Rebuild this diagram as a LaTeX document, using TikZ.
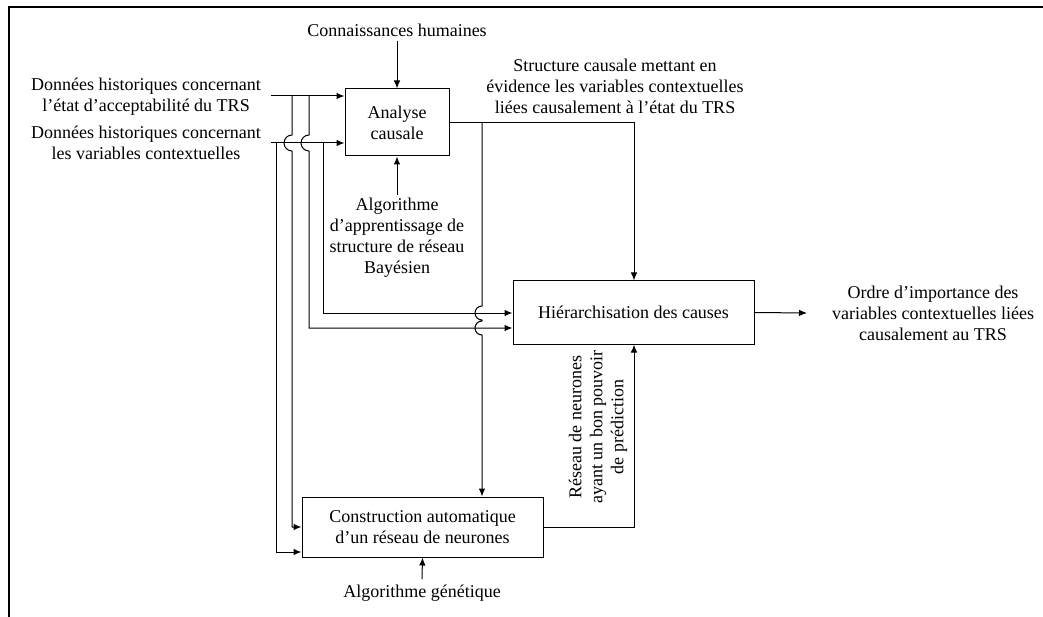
\documentclass[tikz,border=0pt]{standalone}
\usepackage{fontspec}
\setmainfont{Liberation Serif}
\usetikzlibrary{arrows.meta,calc}
\begin{document}
\begin{tikzpicture}[x=1pt,y=-1pt,
  every node/.style={font=\fontsize{18}{21}\selectfont, align=center, inner sep=0pt},
  box/.style={draw, line width=1pt},
  arr/.style={line width=1pt, -{Latex[length=8pt,width=6.5pt]}}]
\useasboundingbox (0,0) rectangle (1043,617);
\draw[line width=1.6pt] (9,617) -- (9,7) -- (1043,7);
% boxes
\node[box, minimum width=104pt, minimum height=67pt] (A) at (397,122.5) {Analyse\\causale};
\node[box, minimum width=241pt, minimum height=63pt] (H) at (633.5,312.5) {Hiérarchisation des causes};
\node[box, minimum width=241pt, minimum height=60pt] (C) at (422.5,527) {Construction automatique\\d’un réseau de neurones};
% texts
\node (kh) at (397,30) {Connaissances humaines};
\node (in1) at (146,97) {Données historiques concernant\\l’état d’acceptabilité du TRS};
\node (in2) at (146,143) {Données historiques concernant\\les variables contextuelles};
\node (alg) at (397,238) {Algorithme\\d’apprentissage de\\structure de réseau\\Bayésien};
\node (st) at (615,86) {Structure causale mettant en\\évidence les variables contextuelles\\liées causalement à l’état du TRS};
\node (out) at (933,313) {Ordre d’importance des\\variables contextuelles liées\\causalement au TRS};
\node (gen) at (422,593) {Algorithme génétique};
\node[rotate=90] (rn) at (598,427) {Réseau de neurones\\ayant un bon pouvoir\\de prédiction};
% coordinates
\coordinate (i1) at (271,96);
\coordinate (i2) at (271,143);
\coordinate (kt) at (397,41);
\coordinate (ab) at (397,195);
\coordinate (gt) at (422,579);
\coordinate (o) at (807,313);
% connectors
\draw[arr] (kt) -- (A.north);
\draw[arr] (ab) -- (A.south);
\draw[arr] (i1) -- (i1 -| A.west);
\draw[arr] (i2) -- (i2 -| A.west);
\draw[arr] (gt) -- (C.south);
\draw[arr] (H.east) -- (o);
% from line 1
\draw[arr] (292,96) -- (292,135) arc[start angle=90,end angle=270,radius=8pt] -- (292,527) -- (C.west |- 0,527);
\draw[arr] (309,96) -- (309,135) arc[start angle=90,end angle=270,radius=8pt] -- (309,328) -- (H.west |- 0,328);
% from line 2
\draw[arr] (276,143) -- (276,552) -- (C.west |- 0,552);
\draw[arr] (323,143) -- (323,313) -- (H.west |- 0,313);
% analyse output
\draw[arr] (A.east |- 0,123) -- (634,123) -- (H.north -| 634,0);
\draw[arr] (482,123) -- (482,306) arc[start angle=90,end angle=270,radius=7pt] -- (482,321) arc[start angle=90,end angle=270,radius=7pt] -- (C.north -| 482,0);
% construction output
\draw[arr] (C.east |- 0,527) -- (634,527) -- (H.south -| 634,0);
\end{tikzpicture}
\end{document}
